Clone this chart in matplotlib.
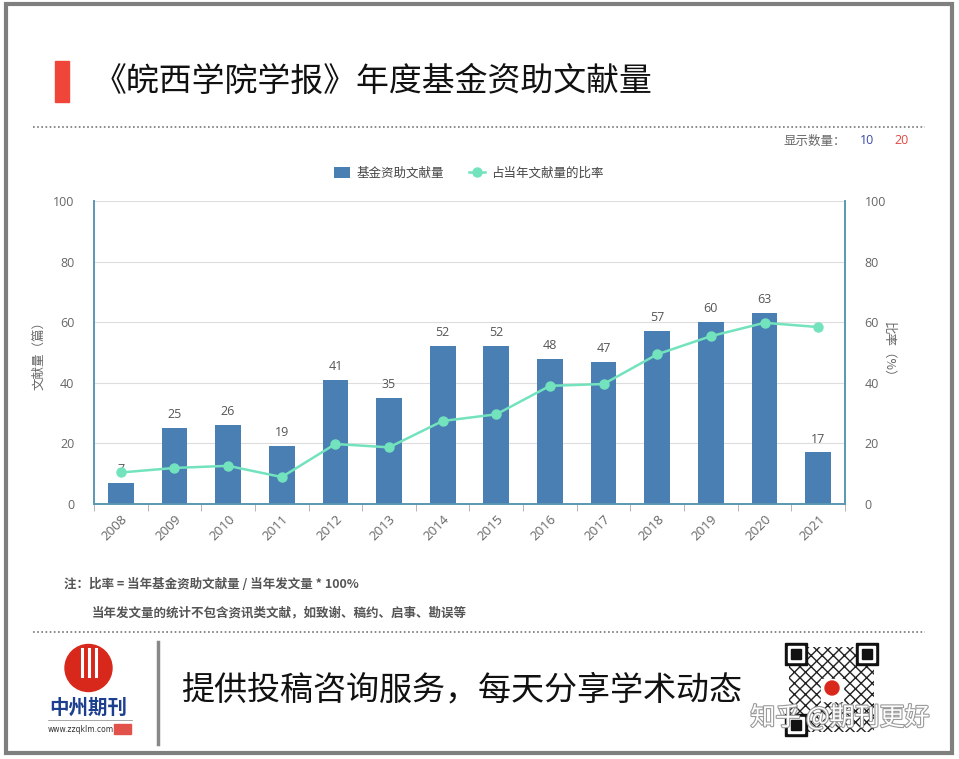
import matplotlib
matplotlib.use('Agg')
from matplotlib import pyplot as plt
from matplotlib.patches import Rectangle, Circle
from matplotlib.lines import Line2D
import matplotlib.patheffects as pe
import numpy as np

plt.rcParams['font.family'] = ['Noto Sans CJK SC', 'DejaVu Sans']

# data
years = ['2008', '2009', '2010', '2011', '2012', '2013', '2014',
         '2015', '2016', '2017', '2018', '2019', '2020', '2021']
funded = [7, 25, 26, 19, 41, 35, 52, 52, 48, 47, 57, 60, 63, 17]
ratio = [10.4, 11.9, 12.6, 8.9, 19.8, 18.7, 27.4, 29.6, 39.0, 39.6, 49.4, 55.4, 59.8, 58.4]

title = '《皖西学院学报》年度基金资助文献量'
bar_name = '基金资助文献量'
line_name = '占当年文献量的比率'
note1 = '注：比率 = 当年基金资助文献量 / 当年发文量 * 100%'
note2 = '当年发文量的统计不包含资讯类文献，如致谢、稿约、启事、勘误等'
slogan = '提供投稿咨询服务，每天分享学术动态'

W, H = 959, 759
bar_c = '#4a7fb3'
line_c = '#72e3bd'
spine_c = '#5b98b3'
txt_c = '#666666'

fig = plt.figure(figsize=(W / 100, H / 100), dpi=100)
fig.patch.set_facecolor('white')

# main chart axes (pixel box 94..845 x 201..504)
ax = fig.add_axes([94 / W, 1 - 504 / H, 751 / W, 303 / H])
x = np.arange(len(years))
bars = ax.bar(x, funded, width=0.48, color=bar_c, zorder=3, label=bar_name)
for xi, v in zip(x, funded):
    ax.annotate(str(v), (xi, v), xytext=(0, 5), textcoords='offset points',
                ha='center', va='bottom', fontsize=9, color='#555555',
                family=['Open Sans', 'DejaVu Sans'], zorder=5)
ax.set_xlim(-0.5, len(years) - 0.5)
ax.set_ylim(0, 100)
ax.set_yticks([0, 20, 40, 60, 80, 100])
ax.grid(axis='y', color='#dddddd', linewidth=0.8, zorder=0)
ax.set_xticks(x)
ax.set_xticklabels(years, rotation=45, ha='right', rotation_mode='anchor',
                   family=['Open Sans', 'DejaVu Sans'], fontsize=9.5, color=txt_c)
ax.set_xticks(np.arange(len(years) + 1) - 0.5, minor=True)
ax.tick_params(axis='x', which='major', length=0, pad=6)
ax.tick_params(axis='x', which='minor', length=5, color='#aaaaaa', direction='out')
ax.tick_params(axis='y', length=0, pad=14, labelcolor=txt_c, labelsize=9)
for lab in ax.get_yticklabels():
    lab.set_family(['Open Sans', 'DejaVu Sans'])
ax.spines['top'].set_visible(False)
for s in ['left', 'right', 'bottom']:
    ax.spines[s].set_color(spine_c)
    ax.spines[s].set_linewidth(1.2)
ax.set_ylabel('文献量（篇）', fontsize=9, color=txt_c)
ax.yaxis.set_label_coords(-(94 - 45) / 751, 0.5)

ax2 = ax.twinx()
ln, = ax2.plot(x, ratio, color=line_c, linewidth=1.8, marker='o', markersize=6.5,
               zorder=4, label=line_name)
ax2.set_ylim(0, 100)
ax2.set_yticks([0, 20, 40, 60, 80, 100])
ax2.tick_params(axis='y', length=0, pad=14, labelcolor=txt_c, labelsize=9)
for lab in ax2.get_yticklabels():
    lab.set_family(['Open Sans', 'DejaVu Sans'])
ax2.spines['top'].set_visible(False)
for s in ['left', 'right', 'bottom']:
    ax2.spines[s].set_color(spine_c)
    ax2.spines[s].set_linewidth(1.2)
ax2.set_ylabel('比率（%）', fontsize=9, color=txt_c, rotation=-90)
ax2.yaxis.set_label_coords(1 + (895 - 845) / 751, 0.5)

fig.legend([bars, ln], [bar_name, line_name], loc='center', ncol=2,
           bbox_to_anchor=(469 / W, 1 - 173 / H), frameon=False, fontsize=9,
           labelcolor='#444444', handlelength=1.3, handleheight=1.0,
           columnspacing=2.0, handletextpad=0.5)

# overlay in pixel coordinates for the page decorations
ov = fig.add_axes([0, 0, 1, 1], facecolor='none')
ov.set_xlim(0, W)
ov.set_ylim(H, 0)
ov.axis('off')

ov.add_patch(Rectangle((6, 4), 946, 749, fill=False, edgecolor='#7f7f7f', linewidth=3))
ov.add_patch(Rectangle((55, 61), 14, 41, color='#f0463a'))
ov.text(94, 82, title, fontsize=23.7, va='center', ha='left', color='#111111')
ov.add_line(Line2D([33, 925], [127, 127], color='#777777', linewidth=1.2, linestyle=(0, (1, 1.5))))

ov.text(784, 141, '显示数量：', fontsize=9, color=txt_c, va='center')
ov.text(860, 141, '10', fontsize=9, color='#3a4aa8', va='center', family=['Open Sans', 'DejaVu Sans'])
ov.text(894, 141, '20', fontsize=9, color='#e2473f', va='center', family=['Open Sans', 'DejaVu Sans'])

ov.text(64, 584, note1, fontsize=9, color='#555555', weight='bold', va='center')
ov.text(92, 613, note2, fontsize=9, color='#555555', weight='bold', va='center')
ov.add_line(Line2D([33, 925], [632, 632], color='#777777', linewidth=1.2, linestyle=(0, (1, 1.5))))

# logo
ov.add_patch(Circle((88.5, 668), 23.5, color='#d8281c'))
for dx in (-7, 0, 7):
    ov.add_line(Line2D([88.5 + dx, 88.5 + dx], [649, 676], color='white', linewidth=2.2))
ov.text(88, 708, '中州期刊', fontsize=14, color='#1d3f8f', weight='bold', ha='center', va='center')
ov.add_line(Line2D([48, 132], [720, 720], color='#999999', linewidth=0.6))
ov.text(48, 729, 'www.zzqklm.com', fontsize=5.5, color='#333333', va='center',
        family=['DejaVu Sans'])
ov.add_patch(Rectangle((114, 724), 17, 10, color='#e0524a'))
ov.add_line(Line2D([158, 158], [642, 744], color='#888888', linewidth=2.5))

ov.text(181, 690, slogan, fontsize=23.8, color='#111111', va='center', ha='left')

# QR code (drawn as a texture with three finder squares)
qx, qy, qs = 785, 643, 93
ov.add_patch(Rectangle((qx + 4, qy + 4), qs - 8, qs - 8, facecolor='white',
                       edgecolor='#222222', hatch='xxx', linewidth=0))
for fx, fy in [(qx, qy), (qx + qs - 22, qy), (qx, qy + qs - 22)]:
    ov.add_patch(Rectangle((fx, fy), 22, 22, color='#111111'))
    ov.add_patch(Rectangle((fx + 3, fy + 3), 16, 16, color='white'))
    ov.add_patch(Rectangle((fx + 6, fy + 6), 10, 10, color='#111111'))
ov.add_patch(Rectangle((qx + 36, qy + 36), 22, 22, color='white'))
ov.add_patch(Circle((qx + 47, qy + 45), 7, color='#d8281c'))

ov.text(840, 718, '知乎 @期刊更好', fontsize=18, color='white', ha='center', va='center',
        path_effects=[pe.withStroke(linewidth=1.6, foreground='#9a9a9a')])

fig.savefig('out.png', dpi=100)
